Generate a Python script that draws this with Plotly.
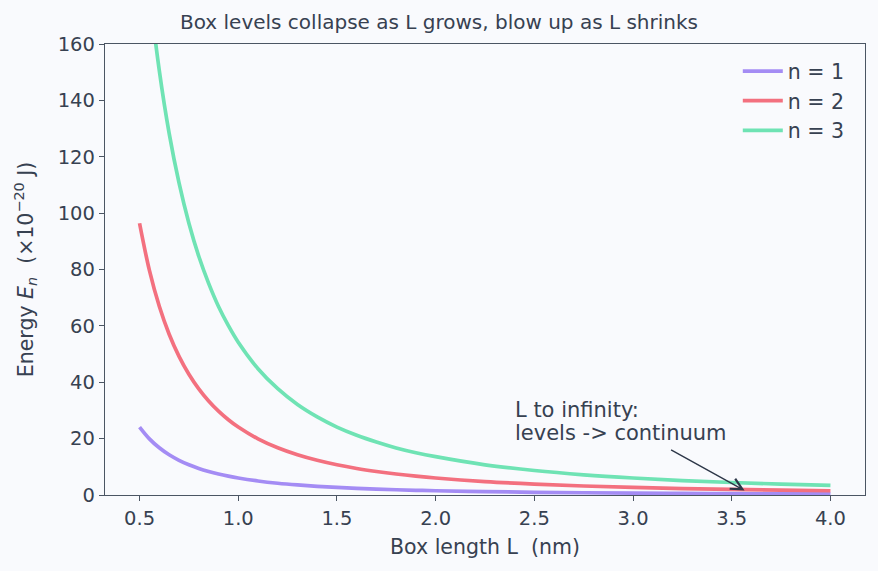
import plotly.graph_objects as go

# Box length L (nm)
L_nm = [0.5, 0.55, 0.6, 0.65, 0.7, 0.75, 0.8, 0.85, 0.9, 0.95, 1.0, 1.1, 1.2, 1.3, 1.4, 1.5,
        1.6, 1.7, 1.8, 1.9, 2.0, 2.25, 2.5, 2.75, 3.0, 3.25, 3.5, 3.75, 4.0]
# Energies (x1e-20 J)
E_n1 = [24.10, 19.92, 16.74, 14.26, 12.30, 10.71, 9.41, 8.34, 7.44, 6.68, 6.03, 4.98, 4.18,
        3.57, 3.07, 2.68, 2.35, 2.08, 1.86, 1.67, 1.51, 1.19, 0.96, 0.80, 0.67, 0.57, 0.49,
        0.43, 0.38]
E_n2 = [96.40, 79.67, 66.94, 57.04, 49.18, 42.84, 37.66, 33.36, 29.75, 26.70, 24.10, 19.92,
        16.74, 14.26, 12.30, 10.71, 9.41, 8.34, 7.44, 6.68, 6.03, 4.76, 3.86, 3.19, 2.68, 2.28,
        1.97, 1.71, 1.51]
E_n3 = [216.9, 179.3, 150.6, 128.3, 110.7, 96.4, 84.7, 75.1, 66.9, 60.1, 54.2, 44.8, 37.7,
        32.1, 27.7, 24.1, 21.2, 18.8, 16.7, 15.0, 13.6, 10.7, 8.68, 7.17, 6.03, 5.13, 4.43,
        3.86, 3.39]

series = [("n = 1", E_n1, "#a48cf4"), ("n = 2", E_n2, "#f3707f"), ("n = 3", E_n3, "#6fe3b4")]
note_lines = ["L to infinity:", "levels -> continuum"]

FONT = "DejaVu Sans"
TXT = "#374151"
AX = "#4b5563"

fig = go.Figure()
for name, ys, col in series:
    fig.add_trace(go.Scatter(x=L_nm, y=ys, mode="lines", name=name,
                             line=dict(color=col, width=3.7, shape="spline", smoothing=1.0)))

for txt, yy in zip(note_lines, [30.2, 22.0]):
    fig.add_annotation(x=2.39, y=yy, xref="x", yref="y", text=txt,
                       showarrow=False, xanchor="left", yanchor="middle", align="left",
                       font=dict(family=FONT, size=21, color=TXT))
fig.add_annotation(x=3.565, y=1.6, ax=3.185, ay=16.3, xref="x", yref="y", axref="x", ayref="y",
                   text="", showarrow=True, arrowhead=5, arrowsize=1.6, arrowwidth=1.4,
                   arrowcolor="#2d3748")

fig.update_layout(
    width=878, height=571,
    margin=dict(l=105, r=13, t=44, b=76),
    paper_bgcolor="#f9fafd", plot_bgcolor="#f9fafd",
    font=dict(family=FONT, size=19.5, color=TXT),
    title=dict(text="Box levels collapse as L grows, blow up as L shrinks",
               x=0.5, xref="container", xanchor="center", y=0.9615, yanchor="middle",
               font=dict(family=FONT, size=20, color=TXT)),
    showlegend=True,
    legend=dict(x=0.98, y=0.984, xanchor="right", yanchor="top", bgcolor="rgba(0,0,0,0)",
                font=dict(family=FONT, size=20.5, color=TXT), itemwidth=40),
    xaxis=dict(range=[0.325, 4.175], tickvals=[0.5, 1.0, 1.5, 2.0, 2.5, 3.0, 3.5, 4.0],
               ticktext=["0.5", "1.0", "1.5", "2.0", "2.5", "3.0", "3.5", "4.0"],
               showgrid=False, zeroline=False, showline=True, linecolor=AX, linewidth=1.3,
               mirror=True, ticks="outside", ticklen=5, tickcolor=AX, tickwidth=1.3,
               tickfont=dict(family=FONT, size=19.5, color=TXT),
               title=dict(text="Box length L\u00a0 (nm)", font=dict(family=FONT, size=20.5, color=TXT),
                          standoff=11)),
    yaxis=dict(range=[0, 160], tickvals=[0, 20, 40, 60, 80, 100, 120, 140, 160],
               showgrid=False, zeroline=False, showline=True, linecolor=AX, linewidth=1.3,
               mirror=True, ticks="outside", ticklen=5, tickcolor=AX, tickwidth=1.3,
               tickfont=dict(family=FONT, size=19.5, color=TXT),
               title=dict(text="Energy <i>E</i><sub><i>n</i></sub>\u00a0 (×10<sup>−20</sup> J)",
                          font=dict(family=FONT, size=20.5, color=TXT), standoff=18)),
)

fig.write_html("out.html")
